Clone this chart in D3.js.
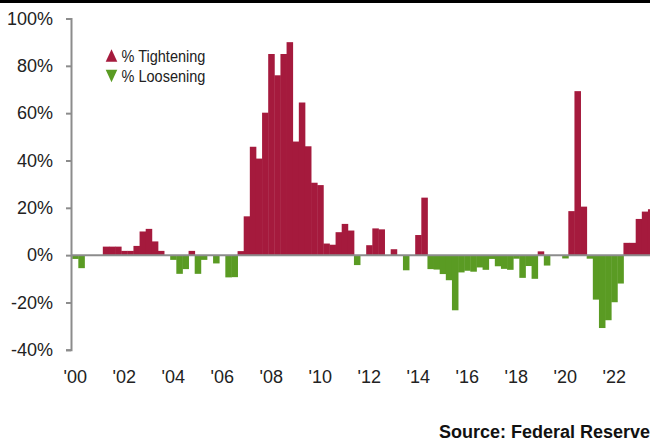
<!DOCTYPE html>
<html>
<head>
<meta charset="utf-8">
<script src="https://cdn.jsdelivr.net/npm/d3@7"></script>
<style>
  html, body { margin: 0; padding: 0; background: #fff; }
  svg { display: block; }
  text { font-family: "Liberation Sans", Arial, sans-serif; }
</style>
</head>
<body>
<svg id="chart" width="650" height="443"></svg>
<script>
// Net percentage of banks tightening lending standards, quarterly from 2000 Q1
const startYear = 2000;
const netTightening = [
  -1.6, -5.5, 0, 0, 0, 3.6, 3.6, 3.6,
  1.8, 1.8, 3.9, 10, 11.1, 5.8, 1.8, 0,
  -2, -7.9, -5.9, 1.8, -7.9, -2, 0, -3.5,
  0, -9.4, -9.3, 1.7, 16.4, 45.8, 40.8, 60.2,
  85, 76, 85, 90, 48, 64.5, 46, 30.6,
  29.6, 4.9, 4.4, 9.7, 13.2, 10.4, -4.2, 0,
  4.2, 11.3, 10.9, 0, 2.5, 0, -6.4, 0,
  8.5, 24.3, -5.9, -6.1, -8, -10.6, -23.3, -7.3,
  -6.6, -7, -5.2, -6.2, -1.6, -4.7, -5.8, -6.2,
  -1.5, -9.6, -4.6, -10, 1.6, -4.4, 0, 0,
  -1.4, 18.6, 69.3, 20.5, -1.5, -18.8, -30.8, -27.5,
  -19.9, -12, 5.2, 5.2, 15.3, 18.4, 19.4
];
const quarters = netTightening.map((_, i) =>
  `${startYear + Math.floor(i / 4)} Q${(i % 4) + 1}`);

const yTicks = [-40, -20, 0, 20, 40, 60, 80, 100];
const yearTicks = [2000, 2002, 2004, 2006, 2008, 2010, 2012, 2014, 2016, 2018, 2020, 2022];
const yearLabels = ["'00", "'02", "'04", "'06", "'08", "'10", "'12", "'14", "'16", "'18", "'20", "'22"];
const legendItems = ["% Tightening", "% Loosening"];

const RED = "#a51a3d";
const GREEN = "#5a9b23";
const AXIS = "#8c8c8c";

const svg = d3.select("#chart");

// top rule
svg.append("rect").attr("x", 0).attr("y", 0).attr("width", 650).attr("height", 3).attr("fill", "#000");

const x = d3.scaleLinear().domain([2000, 2024]).range([72.2, 660.2]);
const y = d3.scaleLinear().domain([-40, 100]).range([349.8, 18.5]);
const qw = x(startYear + 0.25) - x(startYear);

// bars (slight overlap so neighbouring quarters read as one block)
svg.append("g")
  .selectAll("rect")
  .data(netTightening.map((v, i) => ({ q: quarters[i], i, v })))
  .join("rect")
  .attr("x", d => x(startYear + d.i / 4))
  .attr("width", qw + 0.4)
  .attr("y", d => y(Math.max(0, d.v)))
  .attr("height", d => Math.abs(y(d.v) - y(0)))
  .attr("fill", d => d.v >= 0 ? RED : GREEN);

// zero line
svg.append("line")
  .attr("x1", 71).attr("x2", 650)
  .attr("y1", y(0)).attr("y2", y(0))
  .attr("stroke", AXIS).attr("stroke-width", 2);

// y axis
const yAxis = svg.append("g")
  .attr("transform", "translate(71,0)")
  .call(d3.axisLeft(y).tickValues(yTicks).tickSize(5).tickSizeOuter(5).tickPadding(13)
    .tickFormat(d => d + "%"));
yAxis.select(".domain").attr("stroke", AXIS).attr("stroke-width", 2);
yAxis.selectAll(".tick line").attr("stroke", AXIS).attr("stroke-width", 2);
yAxis.selectAll(".tick text")
  .attr("fill", "#222").attr("font-size", 18)
  .style("font-family", "'Liberation Sans', Arial, sans-serif");

// x axis labels
const xAxis = svg.append("g")
  .attr("transform", "translate(2.5,357)")
  .call(d3.axisBottom(x).tickValues(yearTicks).tickSize(0).tickPadding(13)
    .tickFormat((d, i) => yearLabels[i]));
xAxis.select(".domain").remove();
xAxis.selectAll(".tick text")
  .attr("fill", "#222").attr("font-size", 18)
  .style("font-family", "'Liberation Sans', Arial, sans-serif");

// legend
const legend = svg.append("g");
legendItems.forEach((label, k) => {
  const cy = 55.5 + k * 20.5;
  const up = k === 0;
  const pts = up
    ? [[105.7, cy + 6.2], [117.3, cy + 6.2], [111.5, cy - 6.2]]
    : [[105.7, cy - 6.2], [117.3, cy - 6.2], [111.5, cy + 6.2]];
  legend.append("path")
    .attr("d", d3.line()(pts) + "Z")
    .attr("fill", up ? RED : GREEN);
  legend.append("text")
    .attr("transform", `translate(121.5,${cy + 6.3}) scale(0.88,1)`)
    .attr("font-size", 16.5).attr("fill", "#222")
    .text(label);
});

// source
svg.append("text")
  .attr("x", 650).attr("y", 438.3)
  .attr("text-anchor", "end")
  .attr("font-size", 18).attr("font-weight", "bold").attr("fill", "#111")
  .text("Source: Federal Reserve");
</script>
</body>
</html>
